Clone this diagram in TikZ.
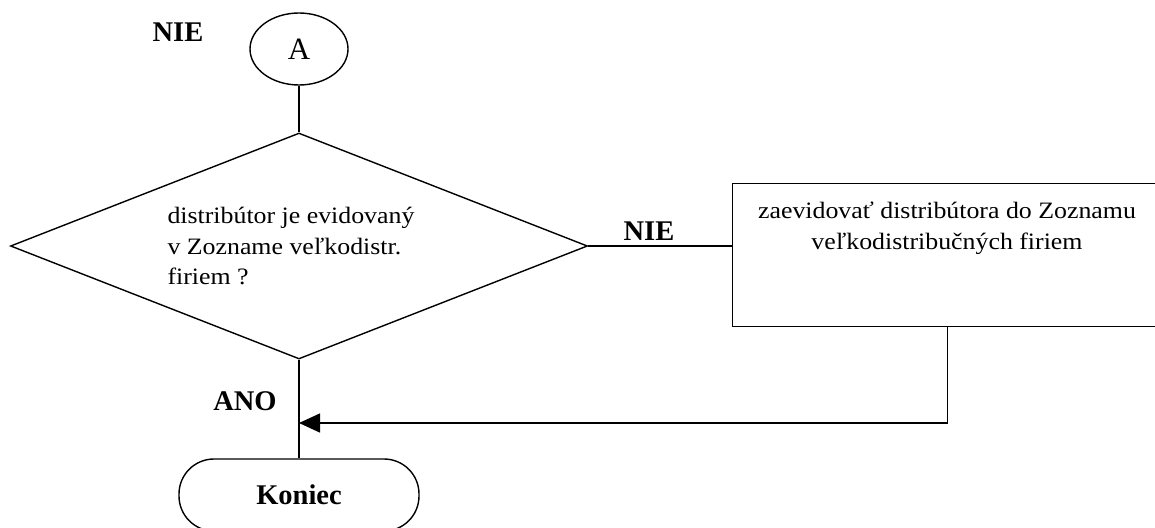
\documentclass[tikz,border=0pt]{standalone}
\usepackage{fontspec}
\setmainfont{Liberation Serif}
\newfontfamily\bodyfont[FakeStretch=1.1]{Liberation Serif}
\usetikzlibrary{shapes.geometric,arrows.meta}

\begin{document}
\begin{tikzpicture}[x=1pt,y=-1pt,line width=1.4pt,
  body/.style={font=\bodyfont\fontsize{23.5pt}{30.5pt}\selectfont,inner sep=0pt},
  tag/.style={font=\bfseries\fontsize{28.5pt}{30pt}\selectfont,inner sep=0pt},
  frame/.style={draw,line width=1.4pt,inner sep=0pt}]
\useasboundingbox (0,0) rectangle (1155,527);
\clip (0,0) rectangle (1155,527);

% connector node A and the decision
\node[tag] (nieTop) at (178,32) {NIE};
\node[frame,ellipse,minimum width=98pt,minimum height=72pt] (A) at (299,49)
  {\fontsize{31pt}{31pt}\selectfont A};
\node[frame,diamond,minimum width=577pt,minimum height=226pt] (D) at (299,246) {};
\node[body,align=left] (dtext) at (291,246)
  {distribútor je evidovaný\\v Zozname veľkodistr.\\firiem ?};

% registration step
\node[frame,minimum width=430pt,minimum height=143pt,anchor=north west] (Box) at (732,182.5) {};
\node[body,align=center] (btext) at (947,228)
  {zaevidovať distribútora do Zoznamu\\veľkodistribučných firiem};

% end of the flow
\node[frame,rounded corners=35pt,minimum width=240pt,minimum height=72pt,
  font=\bfseries\fontsize{28.5pt}{30pt}\selectfont] (End) at (299,495) {Koniec};

\node[tag] (nieMid) at (649,231) {NIE};
\node[tag] (ano) at (245,401) {ANO};
\coordinate (join) at (299,423);

\draw (A) -- (D.north);
\draw (D.east) -- (D.east -| Box.west);
\draw (D.south) -- (End.north);
\draw[-{Triangle[length=21pt,width=19pt]}] (Box.south) |- (join);
\end{tikzpicture}
\end{document}
